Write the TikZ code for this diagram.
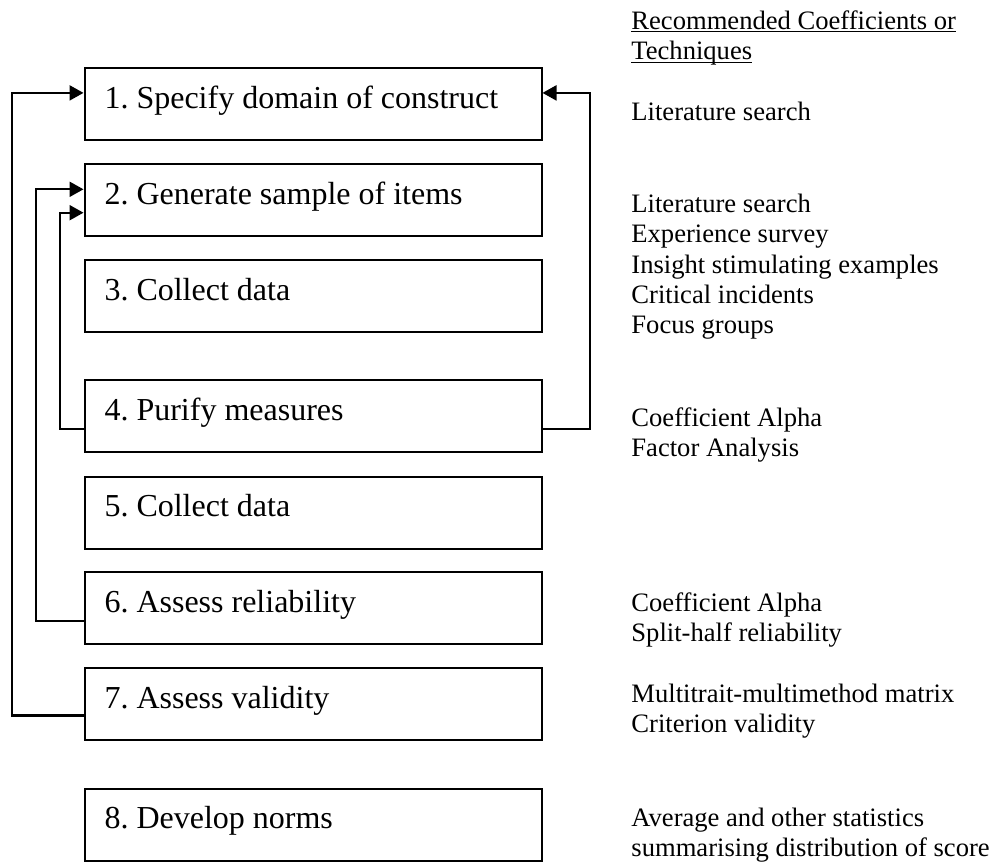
\documentclass[tikz,border=0pt]{standalone}
\usepackage{fontspec}
\setmainfont{Liberation Serif}
\usetikzlibrary{arrows.meta}

% underline drawn at a fixed depth, so it runs through descenders
\newlength\ulwd
\newcommand\ulined[1]{\settowidth{\ulwd}{#1}\rlap{\rule[-1.5pt]{\ulwd}{0.6pt}}#1}
% left-aligned block of lines whose base is the first line's baseline
\newcommand\lines[1]{\begin{tabular}[t]{@{}l@{}}#1\end{tabular}}
% stage caption, left-aligned in a fixed-width box
\newcommand\stagetext[1]{\frenchspacing\makebox[208.5pt][l]{#1}}

\tikzset{
  stage/.style={draw, line width=1pt, anchor=north west,
    inner xsep=10pt, inner ysep=0pt, minimum height=36pt,
    text height=12pt, text depth=8pt,
    font=\fontsize{16pt}{19pt}\selectfont},
  note/.style={anchor=base west, inner sep=0pt,
    font=\fontsize{13.3pt}{15.2pt}\selectfont},
  link/.style={line width=1.1pt},
  tolink/.style={link, -{Triangle[length=7pt,width=7.5pt]}},
}

\begin{document}
\begin{tikzpicture}[x=0.5pt, y=-0.5pt]
  \useasboundingbox[fill=white] (0,0) rectangle (994,863);

  % process stages
  \node[stage] (b1) at (83.5,67.3)  {\stagetext{1. Specify domain of construct}};
  \node[stage] (b2) at (83.5,163)   {\stagetext{2. Generate sample of items}};
  \node[stage] (b3) at (83.5,259)   {\stagetext{3. Collect data}};
  \node[stage] (b4) at (83.5,379)   {\stagetext{4. Purify measures}};
  \node[stage] (b5) at (83.5,475.5) {\stagetext{5. Collect data}};
  \node[stage] (b6) at (83.5,571)   {\stagetext{6. Assess reliability}};
  \node[stage] (b7) at (83.5,667)   {\stagetext{7. Assess validity}};
  \node[stage] (b8) at (83.5,787.5) {\stagetext{8. Develop norms}};

  % feedback loops
  \draw[tolink] ([yshift=-5.7pt]b7.west) -- ++(-71.5,0) |- ([yshift=5.7pt]b1.west);
  \draw[tolink] ([yshift=-6.5pt]b6.west) -- ++(-47.8,0) |- ([yshift=5.35pt]b2.west);
  \draw[tolink] ([yshift=-6.3pt]b4.west) -- ++(-23.5,0) |- ([yshift=-6.35pt]b2.west);
  \draw[tolink] ([yshift=-6.3pt]b4.east) -- ++(47.5,0) |- ([yshift=5.7pt]b1.east);

  % recommended coefficients or techniques
  \node[note] (hd) at (631,29.3) {\lines{\ulined{Recommended Coefficients or}\\ \ulined{Techniques}}};
  \node[note] (t1) at (631,120)   {\lines{Literature search}};
  \node[note] (t2) at (631,212.3) {\lines{Literature search\\ Experience survey\\ Insight stimulating examples\\ Critical incidents\\ Focus groups}};
  \node[note] (t4) at (631,426.5) {\lines{Coefficient Alpha\\ Factor Analysis}};
  \node[note] (t6) at (631,611)   {\lines{Coefficient Alpha\\ Split-half reliability}};
  \node[note] (t7) at (631,702)   {\lines{Multitrait-multimethod matrix\\ Criterion validity}};
  \node[note] (t8) at (631,826)   {\lines{Average and other statistics\\ summarising distribution of score}};
\end{tikzpicture}
\end{document}
